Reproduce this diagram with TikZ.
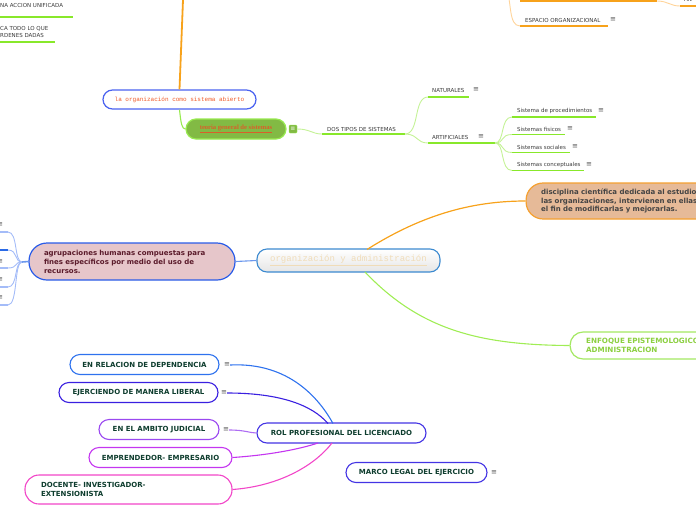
\documentclass[tikz,border=0pt]{standalone}
\usepackage{fontspec}
\setmainfont{DejaVu Sans}
\newfontfamily\monofont{Liberation Mono}
\newfontfamily\seriffont{Liberation Serif}
\definecolor{orA}{HTML}{F7A21B}
\definecolor{orL}{HTML}{FFD49A}
\definecolor{grU}{HTML}{88E82A}
\definecolor{grL}{HTML}{C4F296}
\definecolor{icoC}{HTML}{555555}
\definecolor{lblC}{HTML}{3A3A3A}
\definecolor{rolT}{HTML}{0E3D2E}
\definecolor{blA}{HTML}{2A6AE6}
\definecolor{blL}{HTML}{A4BCF8}
\definecolor{blC}{HTML}{3C8AD0}
\definecolor{laorgB}{HTML}{4A62F0}
\definecolor{laorgT}{HTML}{F05A28}
\definecolor{teoF}{HTML}{82BA44}
\definecolor{teoB}{HTML}{98EA50}
\definecolor{teoT}{HTML}{D8602A}
\definecolor{disF}{HTML}{E6BA98}
\definecolor{disB}{HTML}{F5A030}
\definecolor{disT}{HTML}{444444}
\definecolor{agF}{HTML}{E6C6CA}
\definecolor{agB}{HTML}{2A5CE8}
\definecolor{agT}{HTML}{5A1A2A}
\definecolor{enfB}{HTML}{A4E862}
\definecolor{enfT}{HTML}{8CD040}
\definecolor{cenT}{HTML}{F0DCB8}
\definecolor{cRel}{HTML}{2E72EE}
\definecolor{cLib}{HTML}{3A20E0}
\definecolor{cJud}{HTML}{9A48F0}
\definecolor{cEmp}{HTML}{C436F0}
\definecolor{cDoc}{HTML}{F246C8}
\definecolor{cRol}{HTML}{4434E4}
\begin{document}
\begin{tikzpicture}[x=1pt,y=-1pt,
  lbl/.style={font=\fontsize{5.5}{6.3}\selectfont, text=lblC, inner sep=0pt, anchor=west},
  ico/.style={font=\fontsize{7}{7}\selectfont, text=icoC, inner sep=0pt},
  uline/.style={grU, line width=1.5pt},
  twig/.style={grL, line width=0.9pt},
  oline/.style={orA, line width=1.5pt},
  rolbox/.style={draw, line width=1.1pt, fill=white, rounded corners=10pt, inner sep=0pt,
     font=\bfseries\fontsize{7}{8}\selectfont, text=rolT},
  conn/.style={line width=1.1pt}]
\useasboundingbox (0,0) rectangle (696,520);
\clip (0,0) rectangle (696,520);

% ---- top left fragments
\node[lbl] (tl1) at (0,5) {NA ACCION UNIFICADA};
\coordinate (tl1a) at (0,17); \coordinate (tl1b) at (73,17);
\draw[uline] (tl1a) -- (tl1b);
\node[lbl, align=left] (tl2) at (0,32) {CA TODO LO QUE\\RDENES DADAS};
\coordinate (tl2a) at (0,42); \coordinate (tl2b) at (55,42);
\draw[uline] (tl2a) -- (tl2b);

% ---- top right fragments
\coordinate (trA) at (520,1); \coordinate (trB) at (657,1);
\coordinate (trC) at (680,6); \coordinate (trD) at (700,6);
\draw[oline] (trA) -- (trB);
\draw[orL, line width=0.9pt] (trB) .. controls (668,1) and (670,6) .. (trC);
\draw[oline] (trC) -- (trD);
\node[lbl, anchor=west] (an) at (684,-1) {AN};
\coordinate (espTop) at (506,-12);
\node[lbl] (esp) at (525,20) {ESPACIO ORGANIZACIONAL};
\coordinate (espA) at (520,26); \coordinate (espB) at (608,26);
\draw[oline] (espA) -- (espB);
\draw[orL, line width=0.9pt] (espTop) .. controls (512,0) and (508,26) .. (espA);
\node[ico] (espI) at (613,20) {≡};

% ---- la organizacion
\coordinate (topA) at (183,0);
\node[draw=laorgB, line width=1.2pt, fill=white, rounded corners=9.5pt, minimum width=153pt,
  minimum height=19pt, inner sep=0pt, font=\monofont\fontsize{6}{7}\selectfont, text=laorgT]
  (laorg) at (179.5,99.5) {la organización como sistema abierto};
\draw[orA, line width=1.8pt] (laorg.north) -- (topA);

\node[draw=teoB, line width=1.2pt, fill=teoF, rounded corners=10pt, minimum width=100pt,
  minimum height=20pt, inner sep=0pt, font=\seriffont\bfseries\fontsize{6.6}{7}\selectfont, text=teoT]
  (teo) at (236,129) {\underline{teoria general de sistemas}};
\draw[teoB, line width=1.1pt] (laorg.south) .. controls (181,124) and (182,129) .. (teo.west);
\node[fill=teoF, draw=teoB, line width=0.4pt, rounded corners=1pt, minimum size=8pt, inner sep=0pt,
  font=\fontsize{6}{6}\selectfont, text=white] (teoI) at (293,129) {≡};

% ---- green tree
\node[lbl] (dos) at (327,129) {DOS TIPOS DE SISTEMAS};
\coordinate (dosA) at (322,134); \coordinate (dosB) at (405,134);
\draw[uline] (dosA) -- (dosB);
\draw[twig] (teoI.east) .. controls (310,129) and (312,134) .. (dosA);

\node[lbl] (nat) at (432,90) {NATURALES};
\coordinate (natA) at (428,97); \coordinate (natB) at (469,97);
\draw[uline] (natA) -- (natB);
\node[ico] (natI) at (476,90) {≡};

\node[lbl] (art) at (432,137) {ARTIFICIALES};
\coordinate (artA) at (428,143); \coordinate (artB) at (495,143);
\draw[uline] (artA) -- (artB);
\node[ico] (artI) at (481,137) {≡};

\draw[twig] (dosB) .. controls (420,134) and (413,97) .. (natA);
\draw[twig] (dosB) .. controls (418,134) and (416,143) .. (artA);

\node[lbl] (s1) at (517,111) {Sistema de procedimientos};
\coordinate (s1A) at (512,117); \coordinate (s1B) at (596,117);
\node[ico] (s1I) at (601,111) {≡};
\node[lbl] (s2) at (517,129) {Sistemas fisicos};
\coordinate (s2A) at (512,134.5); \coordinate (s2B) at (565,134.5);
\node[ico] (s2I) at (570,129) {≡};
\node[lbl] (s3) at (517,147) {Sistemas sociales};
\coordinate (s3A) at (512,152.5); \coordinate (s3B) at (570,152.5);
\node[ico] (s3I) at (575,147) {≡};
\node[lbl] (s4) at (517,165) {Sistemas conceptuales};
\coordinate (s4A) at (512,170.5); \coordinate (s4B) at (584,170.5);
\node[ico] (s4I) at (589,165) {≡};
\foreach \s in {s1,s2,s3,s4}{
  \draw[uline] (\s A) -- (\s B);
  \draw[twig] (artB) .. controls (505,143) and (500,0|-\s A) .. (\s A);
}

% ---- central node
\node[draw=blC, line width=1.1pt, rounded corners=10pt, top color=white, bottom color=black!10,
  minimum width=183pt, minimum height=23pt, inner sep=0pt,
  font=\monofont\fontsize{9}{10}\selectfont, text=cenT]
  (cen) at (348.5,260.5) {\underline{organización y administración}};

% disciplina
\node[draw=disB, line width=1.2pt, fill=disF, rounded corners=17pt, minimum width=220pt,
  minimum height=36pt, inner sep=0pt, anchor=west, text width=190pt, align=left,
  font=\bfseries\fontsize{7}{8.2}\selectfont, text=disT]
  (dis) at (525.5,201) {disciplina científica dedicada al estudio\\las organizaciones, intervienen en ellas\\el fin de modificarlas y mejorarlas.};
\coordinate (cenTop) at (367,249.5);
\draw[orA, line width=1.2pt] (cenTop) .. controls (420,216) and (470,201) .. (dis.west);

% enfoque
\node[draw=enfB, line width=1.2pt, fill=white, rounded corners=13pt, minimum width=220pt,
  minimum height=27pt, inner sep=0pt, anchor=west, text width=188pt, align=left,
  font=\bfseries\fontsize{7.2}{9}\selectfont, text=enfT]
  (enf) at (569.5,345.5) {ENFOQUE EPISTEMOLOGICO\\ADMINISTRACION};
\coordinate (cenBot) at (365,272);
\draw[grU!80!white, line width=1.1pt] (cenBot) .. controls (420,330) and (480,345) .. (enf.west);

% agrupaciones
\node[draw=agB, line width=1.2pt, fill=agF, rounded corners=18pt, minimum width=206pt,
  minimum height=37pt, inner sep=0pt, text width=176pt, align=left,
  font=\bfseries\fontsize{7}{9}\selectfont, text=agT]
  (agr) at (132,261.5) {agrupaciones humanas compuestas para\\fines específicos por medio del uso de\\recursos.};
\draw[blA!70!white, line width=1.1pt] (cen.west) -- (agr.east);
\coordinate (J) at (22,262);
\draw[blA!70!white, line width=1.6pt] (agr.west) -- (J);
\foreach \yy/\ii in {232/1,268/3,287/4,305/5}{
  \coordinate (L\ii) at (8,\yy);
  \draw[blL, line width=0.9pt] (J) .. controls (14,262) and (18,\yy) .. (L\ii);
  \draw[blL, line width=1.2pt] (L\ii) -- ++(-10,0);
}
\coordinate (L2) at (8,250);
\draw[blL, line width=0.9pt] (J) .. controls (14,262) and (18,250) .. (L2);
\draw[blA, line width=2pt] (L2) -- ++(-10,0);
\foreach \yy in {225,262,280,298}{
  \node[ico] at (0,\yy) {≡};
}

% ---- rol profesional
\node[rolbox, draw=cRol, minimum width=169pt, minimum height=20pt] (rol) at (341.5,433) {ROL PROFESIONAL DEL LICENCIADO};
\node[rolbox, draw=cRel, minimum width=149pt, minimum height=20pt] (rel) at (144.5,364.5) {EN RELACION DE DEPENDENCIA};
\node[ico] (relI) at (227,365) {≡};
\node[rolbox, draw=cLib, minimum width=159pt, minimum height=20pt] (lib) at (138.5,392.5) {EJERCIENDO DE MANERA LIBERAL};
\node[ico] (libI) at (224,393) {≡};
\node[rolbox, draw=cJud, minimum width=120pt, minimum height=20pt] (jud) at (159,429.5) {EN EL AMBITO JUDICIAL};
\node[ico] (judI) at (226,430) {≡};
\node[rolbox, draw=cEmp, minimum width=143pt, minimum height=20pt] (emp) at (160.5,457.5) {EMPRENDEDOR- EMPRESARIO};
\node[rolbox, draw=cDoc, minimum width=207pt, minimum height=29pt, rounded corners=14pt,
  text width=175pt, align=left, font=\bfseries\fontsize{7}{8.3}\selectfont]
  (doc) at (128.5,489.5) {DOCENTE- INVESTIGADOR-\\EXTENSIONISTA};
\node[rolbox, draw=cRol, minimum width=141pt, minimum height=20pt] (mar) at (416.5,472.5) {MARCO LEGAL DEL EJERCICIO};
\node[ico] (marI) at (494,473) {≡};

\coordinate (rolT1) at (333,423.5);
\coordinate (rolT2) at (328,423.5);
\coordinate (rolB1) at (318,443);
\coordinate (rolB2) at (332,443);
\draw[conn, cRel] (relI.east) .. controls (290,362) and (320,400) .. (rolT1);
\draw[conn, cLib] (libI.east) .. controls (280,393) and (312,405) .. (rolT2);
\draw[conn, cJud!80!white] (judI.east) .. controls (245,430) and (250,433) .. (rol.west);
\draw[conn, cEmp] (emp.east) .. controls (270,455) and (300,449) .. (rolB1);
\draw[conn, cDoc] (doc.east) .. controls (280,486) and (315,465) .. (rolB2);
\end{tikzpicture}
\end{document}
